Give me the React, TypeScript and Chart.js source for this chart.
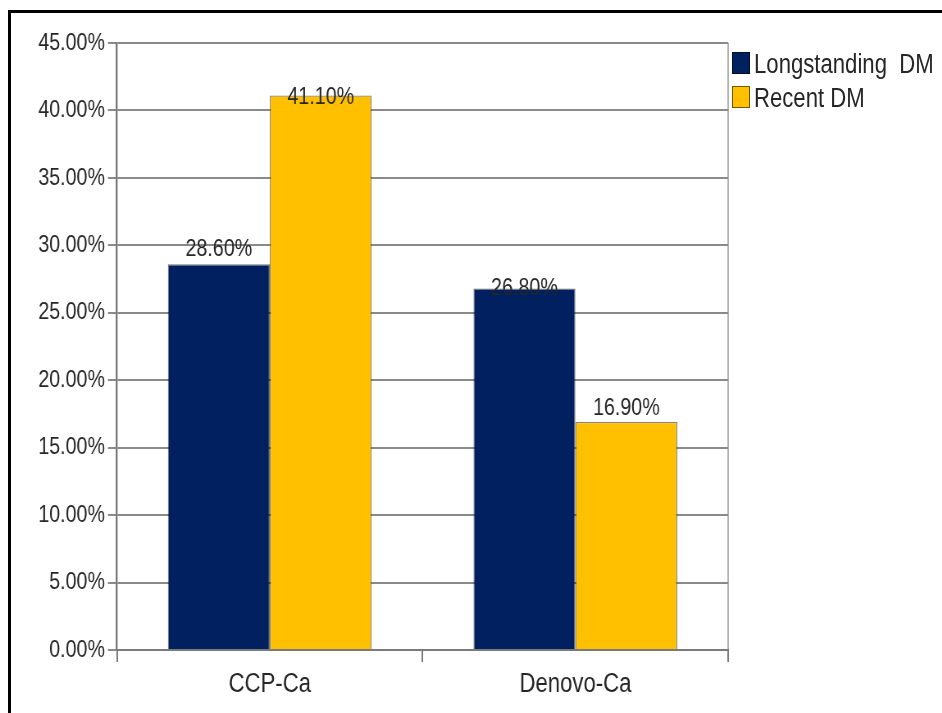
import React, { useEffect, useRef } from "react";
import { Chart, registerables } from "chart.js";

Chart.register(...registerables);

// Share of cases by diabetes duration
const categories = ["CCP-Ca", "Denovo-Ca"];
const seriesNames = ["Longstanding  DM", "Recent DM"];
const longstandingValues = [28.6, 26.8];
const recentValues = [41.1, 16.9];
const yTicks = [0, 5, 10, 15, 20, 25, 30, 35, 40, 45];

const seriesColors = ["#002060", "#FFC000"];
// vertical shift of each value label relative to its bar top (px, positive = up)
const labelLift = [
  [8, -7],
  [-8, 7],
];

// The chart is drawn on a wider canvas and squeezed horizontally, which gives
// the narrow (Arial Narrow-like) lettering of the original design.
const SQUEEZE = 0.82;
const W = 942;
const H = 713;
const CW = Math.round(W / SQUEEZE);
const hx = (px: number) => px / SQUEEZE;

const FONT = "'Liberation Sans', Arial, sans-serif";
const TEXT = "#262626";

const pct = (v: number) => v.toFixed(2) + "%";

const valueLabels = {
  id: "valueLabels",
  afterDatasetsDraw(chart: any) {
    const { ctx } = chart;
    ctx.save();
    ctx.font = `24px ${FONT}`;
    ctx.fillStyle = TEXT;
    ctx.textAlign = "center";
    ctx.textBaseline = "alphabetic";
    chart.data.datasets.forEach((ds: any, di: number) => {
      const meta = chart.getDatasetMeta(di);
      meta.data.forEach((bar: any, i: number) => {
        const v = ds.data[i] as number;
        ctx.fillText(pct(v), bar.x, bar.y - labelLift[di][i]);
      });
    });
    ctx.restore();
  },
};

export default function App() {
  const canvasRef = useRef<HTMLCanvasElement | null>(null);

  useEffect(() => {
    if (!canvasRef.current) return;
    const chart = new Chart(canvasRef.current, {
      type: "bar",
      data: {
        labels: categories,
        datasets: [
          {
            label: seriesNames[0],
            data: longstandingValues,
            backgroundColor: seriesColors[0],
            borderColor: "rgba(0,0,0,0.55)",
            borderWidth: 1.2,
          },
          {
            label: seriesNames[1],
            data: recentValues,
            backgroundColor: seriesColors[1],
            borderColor: "rgba(60,50,20,0.6)",
            borderWidth: 1.2,
          },
        ],
      },
      options: {
        responsive: false,
        animation: false,
        devicePixelRatio: 1,
        layout: { padding: { top: 43, right: hx(W - 728), left: 0, bottom: 0 } },
        datasets: {
          bar: { categoryPercentage: 0.667, barPercentage: 1.0 },
        },
        plugins: {
          legend: { display: false },
          tooltip: { enabled: false },
        },
        scales: {
          x: {
            offset: true,
            grid: {
              offset: true,
              color: (c: any) => (c.index === undefined ? "#b0b0b0" : "transparent"),
              tickColor: "#7a7a7a",
              tickLength: 12,
              lineWidth: 2,
            },
            border: { color: "#7a7a7a", width: 2 },
            ticks: {
              color: TEXT,
              font: { family: FONT, size: 27 },
              padding: 6,
            },
            afterFit: (s: any) => {
              s.height = 63;
            },
          },
          y: {
            min: 0,
            max: 45,
            afterBuildTicks: (s: any) => {
              s.ticks = yTicks.map((v) => ({ value: v }));
            },
            grid: {
              color: "#8a8a8a",
              lineWidth: 2,
              tickLength: hx(9),
            },
            border: { color: "#7a7a7a", width: 2.4 },
            ticks: {
              color: TEXT,
              font: { family: FONT, size: 24 },
              padding: hx(3),
              callback: (v: any) => pct(Number(v)),
            },
            afterFit: (s: any) => {
              s.width = hx(117);
            },
          },
        },
      },
      plugins: [valueLabels],
    });
    return () => chart.destroy();
  }, []);

  const legendItem = (i: number, top: number) => (
    <div key={i} style={{ position: "absolute", left: 732, top, height: 40 }}>
      <div
        style={{
          position: "absolute",
          left: 0,
          top: 4,
          width: 18,
          height: 22,
          boxSizing: "border-box",
          background: seriesColors[i],
          border: "1px solid rgba(0,0,0,0.55)",
        }}
      />
      <div
        style={{
          position: "absolute",
          left: 22,
          top: 0,
          fontFamily: FONT,
          fontSize: 27,
          lineHeight: "32px",
          color: TEXT,
          whiteSpace: "pre",
          transform: `scaleX(${SQUEEZE})`,
          transformOrigin: "left top",
        }}
      >
        {seriesNames[i]}
      </div>
    </div>
  );

  return (
    <div
      style={{
        position: "fixed",
        left: 0,
        top: 0,
        width: W,
        height: H,
        background: "#fff",
        overflow: "hidden",
      }}
    >
      <div
        style={{
          position: "absolute",
          left: 0,
          top: 0,
          width: CW,
          height: H,
          transform: `scaleX(${SQUEEZE})`,
          transformOrigin: "left top",
        }}
      >
        <canvas
          ref={canvasRef}
          width={CW}
          height={H}
          style={{ display: "block", width: CW, height: H }}
        />
      </div>
      {legendItem(0, 48)}
      {legendItem(1, 82)}
      <div
        style={{
          position: "absolute",
          left: 8,
          top: 10,
          width: 960,
          height: 720,
          borderLeft: "3px solid #000",
          borderTop: "3px solid #000",
          pointerEvents: "none",
        }}
      />
    </div>
  );
}
